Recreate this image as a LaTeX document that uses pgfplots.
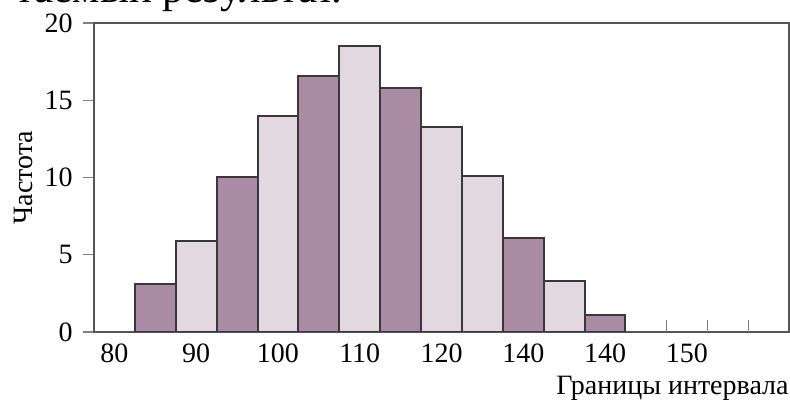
\documentclass[border=0pt]{standalone}
\usepackage{pgfplots}
\pgfplotsset{compat=1.18}
\usepackage{fontspec}
\setmainfont{Liberation Serif}
\definecolor{dark}{RGB}{169,140,163}
\definecolor{light}{RGB}{226,216,224}
\definecolor{edge}{RGB}{58,54,58}
\definecolor{axisc}{RGB}{85,85,85}
\begin{document}
\begin{tikzpicture}
\path[use as bounding box, clip] (0,0) rectangle (395pt,200pt);
\node[anchor=base east, font=\fontsize{21.5}{26}\selectfont, inner sep=0pt] at (171.5pt,198.5pt) {таемый результат.};
\begin{axis}[
  at={(47pt,34pt)}, anchor=south west,
  scale only axis, width=347.5pt, height=154.5pt,
  xmin=0, xmax=17, ymin=0, ymax=20,
  axis line style={draw=axisc, line width=0.8pt},
  /pgf/number format/assume math mode=true,
  font=\fontsize{14}{16}\selectfont,
  ytick={0,5,10,15,20},
  ytick pos=left,
  tick align=outside,
  major tick length=5.5pt,
  y tick style={draw=gray, line width=0.6pt},
  yticklabel style={anchor=east, inner sep=0pt, xshift=-5pt},
  xtick={0.5,2.5,4.5,6.5,8.5,10.5,12.5,14.5},
  xticklabels={80,90,100,110,120,140,140,150},
  xtick pos=bottom,
  x tick style={draw=none},
  xticklabel style={anchor=north, inner sep=0pt},
  extra x ticks={14,15,16},
  extra x tick labels={},
  extra x tick style={tick align=inside, major tick length=6pt, x tick style={draw=gray, line width=0.6pt}},
  ylabel={Частота},
  ylabel style={at={(axis description cs:0,0.5)}, anchor=center, yshift=35.5pt},
  xlabel={Границы интервала},
  xlabel style={at={(axis description cs:1,0)}, anchor=base east, yshift=-31.5pt, inner sep=0pt},
]
\addplot[ybar, bar width=1, bar shift=0pt, fill=dark, draw=edge, line width=1pt]
  coordinates {(1.5,3.1) (3.5,10.0) (5.5,16.6) (7.5,15.8) (10.5,6.1) (12.5,1.1)};
\addplot[ybar, bar width=1, bar shift=0pt, fill=light, draw=edge, line width=1pt]
  coordinates {(2.5,5.9) (4.5,14.0) (6.5,18.5) (8.5,13.3) (9.5,10.1) (11.5,3.3)};
\end{axis}
\end{tikzpicture}
\end{document}
